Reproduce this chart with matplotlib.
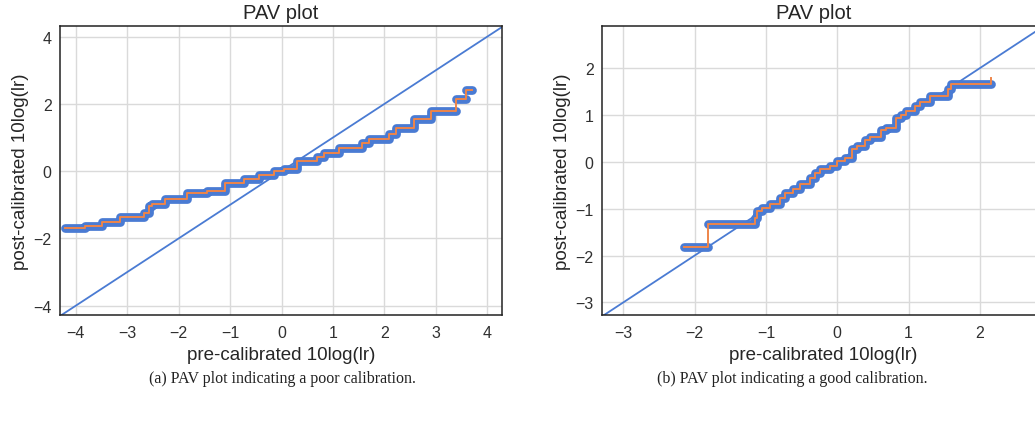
import numpy as np
import matplotlib
matplotlib.use('Agg')
import matplotlib.pyplot as plt

# ===== PAV step data (edges of plateaus and their levels)
# (a) poor calibration
poor_edges = [-4.21, -3.82, -3.49, -3.14, -2.68, -2.58, -2.52, -2.26, -1.84, -1.45,
              -1.09, -0.73, -0.44, -0.15, 0.05, 0.31, 0.69, 0.82, 1.12, 1.57,
              1.70, 2.09, 2.22, 2.58, 2.90, 3.39, 3.58, 3.71]
poor_levels = [-1.68, -1.62, -1.50, -1.35, -1.25, -1.05, -0.97, -0.82, -0.66, -0.60,
               -0.35, -0.23, -0.10, 0.00, 0.07, 0.30, 0.42, 0.55, 0.68, 0.85,
               0.97, 1.12, 1.27, 1.55, 1.80, 2.15, 2.42]
poor_gaps = [24, 25]          # jumps with no points in between (orange only)
poor_tail = None

# (b) good calibration
good_edges = [-2.15, -1.81, -1.15, -1.12, -1.06, -0.94, -0.80, -0.73, -0.62, -0.52,
              -0.38, -0.31, -0.24, -0.10, -0.01, 0.11, 0.20, 0.27, 0.39, 0.46,
              0.62, 0.69, 0.83, 0.90, 0.97, 1.09, 1.16, 1.30, 1.55, 1.59, 2.16]
good_levels = [-1.81, -1.32, -1.19, -1.06, -0.98, -0.91, -0.78, -0.67, -0.58, -0.48,
               -0.34, -0.23, -0.16, -0.09, 0.02, 0.09, 0.27, 0.33, 0.47, 0.54,
               0.68, 0.73, 0.93, 1.00, 1.09, 1.20, 1.28, 1.40, 1.55, 1.67]
good_gaps = [0]
good_tail = 1.78

diag = [-5, 5]

poor_xticks = [-4, -3, -2, -1, 0, 1, 2, 3, 4]
poor_yticks = [-4, -2, 0, 2, 4]
good_xticks = [-3, -2, -1, 0, 1, 2]
good_yticks = [-3, -2, -1, 0, 1, 2]

BLUE = '#4a7bd3'
ORANGE = '#ee854a'

plt.rcParams['font.family'] = ['Liberation Sans', 'DejaVu Sans']
plt.rcParams['axes.unicode_minus'] = True


def step_xy(edges, levels):
    xs = np.repeat(edges, 2)[1:-1]
    ys = np.repeat(levels, 2)
    return xs, ys


def draw_pav(ax, edges, levels, gaps, tail):
    edges = np.asarray(edges)
    levels = np.asarray(levels)
    # thick blue band = the scatter of calibrated points
    idx = np.arange(len(levels))
    for g in np.split(idx, [k + 1 for k in gaps]):
        xs, ys = step_xy(edges[g[0]:g[-1] + 2], levels[g[0]:g[-1] + 1])
        ax.plot(xs, ys, color=BLUE, lw=6.3, solid_capstyle='round',
                solid_joinstyle='round', zorder=3)
    # thin orange PAV line
    xs, ys = step_xy(edges, levels)
    if tail is not None:
        xs = np.append(xs, edges[-1])
        ys = np.append(ys, tail)
    ax.plot(xs, ys, color=ORANGE, lw=1.4, zorder=4)


def style_axes(ax, xlim, ylim, xticks, yticks):
    ax.plot(diag, diag, color=BLUE, lw=1.3, zorder=2)
    ax.set_xlim(*xlim)
    ax.set_ylim(*ylim)
    ax.set_xticks(xticks)
    ax.set_yticks(yticks)
    ax.grid(True, color='#dadada', lw=1.0, zorder=0)
    ax.set_axisbelow(True)
    ax.tick_params(axis='x', length=0, pad=7.5, labelsize=11.5, labelcolor='#303030')
    ax.tick_params(axis='y', length=0, pad=6, labelsize=11.5, labelcolor='#303030')
    for s in ax.spines.values():
        s.set_color('#222222')
        s.set_linewidth(1.1)
    ax.set_title('PAV plot', fontsize=14.5, color='#262626')
    ax.set_xlabel('pre-calibrated 10log(lr)', fontsize=13.5, color='#262626', labelpad=4)
    ax.set_ylabel('post-calibrated 10log(lr)', fontsize=13.5, color='#262626', labelpad=3)


fig = plt.figure(figsize=(10.35, 4.27), dpi=100)
ax1 = fig.add_axes([60 / 1035, 111 / 427, 442 / 1035, 289 / 427])
ax2 = fig.add_axes([602 / 1035, 111 / 427, 442 / 1035, 289 / 427])

draw_pav(ax1, poor_edges, poor_levels, poor_gaps, poor_tail)
style_axes(ax1, (-4.31, 4.29), (-4.28, 4.32), poor_xticks, poor_yticks)

draw_pav(ax2, good_edges, good_levels, good_gaps, good_tail)
style_axes(ax2, (-3.30, 2.90), (-3.27, 2.90), good_xticks, good_yticks)
ax2.title.set_x(0.478)

fig.text(282 / 1035, 1 - 379 / 427, '(a) PAV plot indicating a poor calibration.',
         ha='center', va='center', fontsize=11.5, family='Liberation Serif', color='#222222')
fig.text(792 / 1035, 1 - 379 / 427, '(b) PAV plot indicating a good calibration.',
         ha='center', va='center', fontsize=11.5, family='Liberation Serif', color='#222222')

fig.savefig('out.png', dpi=100)
